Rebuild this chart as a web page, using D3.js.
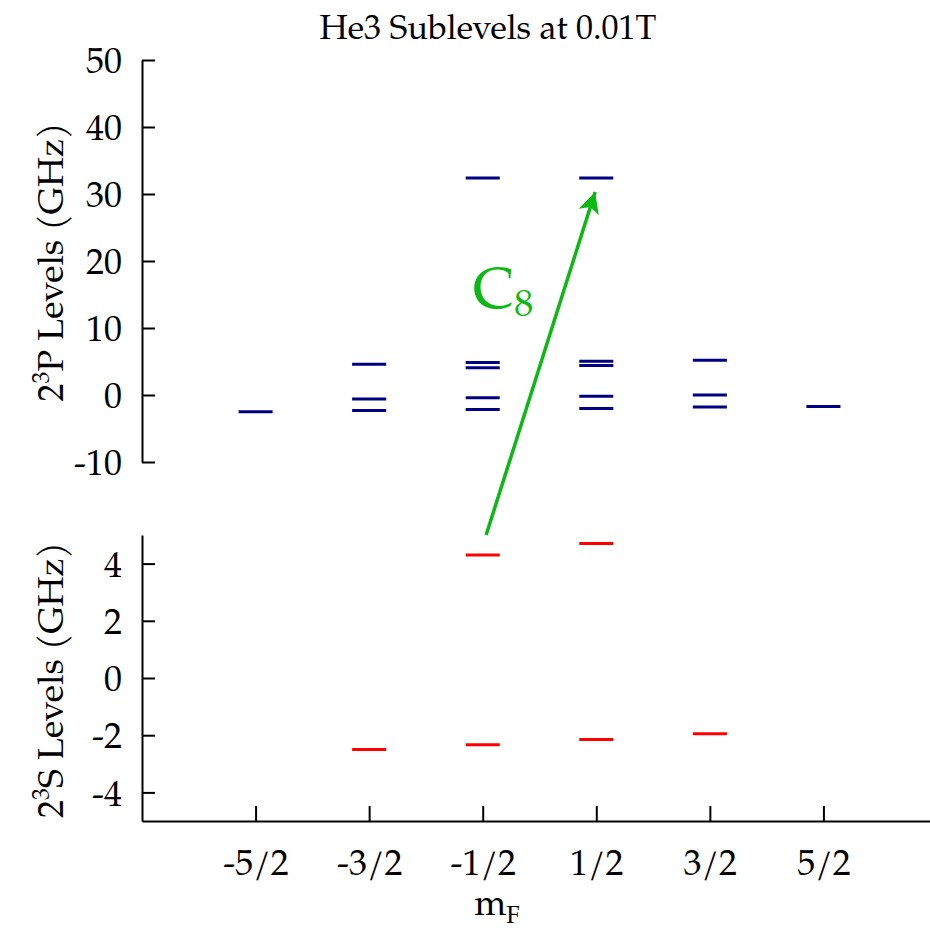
<!DOCTYPE html>
<html>
<head>
<meta charset="utf-8">
<script src="https://cdn.jsdelivr.net/npm/d3@7"></script>
<style>
  body { margin: 0; background: #fff; }
  text { font-family: "TeX Gyre Pagella", "Palatino Linotype", Palatino, "Liberation Serif", serif; fill: #000; }
</style>
</head>
<body>
<svg id="chart" width="930" height="938"></svg>
<script>
// m_F categories (numeric value + tick label)
var mfValues = [-2.5, -1.5, -0.5, 0.5, 1.5, 2.5]
var mfLabels = ["-5/2", "-3/2", "-1/2", "1/2", "3/2", "5/2"]

// 2^3P sublevels (GHz), one list per m_F
var pLevels = [
    [-2.5],
    [4.6, -0.6, -2.3],
    [32.4, 4.85, 4.05, -0.4, -2.15],
    [32.4, 5.05, 4.4, -0.2, -2.0],
    [5.2, 0.0, -1.8],
    [-1.7]
]
// 2^3S sublevels (GHz)
var sLevels = [
    [],
    [-2.5],
    [4.3, -2.33],
    [4.7, -2.15],
    [-1.95],
    []
]
var pTicks = [-10, 0, 10, 20, 30, 40, 50]
var sTicks = [-4, -2, 0, 2, 4]

// C8 transition arrow: from (mF, S level) to (mF, P level)
var arrowFrom = [-0.47, 5.0]
var arrowTo = [0.49, 30.3]

var svg = d3.select("#chart")
var green = "#0cb814"
var serif = "'TeX Gyre Pagella', 'Palatino Linotype', Palatino, 'Liberation Serif', serif"
var plain = function (d) { return String(d) } // hyphen minus, like the original

var x = d3.scaleLinear().domain([-3.5, 3.5]).range([142, 937])
var yP = d3.scaleLinear().domain([-10, 50]).range([462, 60])
var yS = d3.scaleLinear().domain([-5, 5]).range([821, 535])

// flatten levels
var pData = [], sData = []
mfValues.forEach(function (m, i) {
    pLevels[i].forEach(function (v) { pData.push({ m: m, v: v }) })
    sLevels[i].forEach(function (v) { sData.push({ m: m, v: v }) })
})

// title
svg.append("text")
    .attr("x", 488).attr("y", 39)
    .attr("text-anchor", "middle")
    .attr("font-size", 34)
    .text("He3 Sublevels at 0.01T")

// axes (inward ticks)
var axP = svg.append("g").attr("transform", "translate(142,0)")
    .call(d3.axisLeft(yP).tickValues(pTicks).tickFormat(plain).tickSizeInner(-13).tickSizeOuter(0).tickPadding(20))
var axS = svg.append("g").attr("transform", "translate(142,0)")
    .call(d3.axisLeft(yS).tickValues(sTicks).tickFormat(plain).tickSizeInner(-13).tickSizeOuter(0).tickPadding(20))
var axX = svg.append("g").attr("transform", "translate(0,821)")
    .call(d3.axisBottom(x).tickValues(mfValues).tickFormat(function (d, i) { return mfLabels[i] })
        .tickSizeInner(-15).tickSizeOuter(0).tickPadding(28))

;[axP, axS, axX].forEach(function (a) {
    a.selectAll("path.domain").attr("stroke", "#000").attr("stroke-width", 2)
    a.selectAll(".tick line").attr("stroke", "#000").attr("stroke-width", 2)
    a.selectAll(".tick text")
        .attr("font-family", serif)
        .attr("font-size", 36).attr("fill", "#000")
})
axP.selectAll(".tick text").attr("dy", "0.35em")
axS.selectAll(".tick text").attr("dy", "0.35em")

// levels
var hw = 0.15
svg.append("g").selectAll("line")
    .data(pData).enter().append("line")
    .attr("x1", function (d) { return x(d.m - hw) })
    .attr("x2", function (d) { return x(d.m + hw) })
    .attr("y1", function (d) { return yP(d.v) })
    .attr("y2", function (d) { return yP(d.v) })
    .attr("stroke", "#000080")
    .attr("stroke-width", 3)
svg.append("g").selectAll("line")
    .data(sData).enter().append("line")
    .attr("x1", function (d) { return x(d.m - hw) })
    .attr("x2", function (d) { return x(d.m + hw) })
    .attr("y1", function (d) { return yS(d.v) })
    .attr("y2", function (d) { return yS(d.v) })
    .attr("stroke", "#ff0000")
    .attr("stroke-width", 3)

// arrow
svg.append("defs").append("marker")
    .attr("id", "head")
    .attr("viewBox", "0 0 10 10")
    .attr("refX", 10).attr("refY", 5)
    .attr("markerWidth", 8).attr("markerHeight", 6)
    .attr("markerUnits", "strokeWidth")
    .attr("orient", "auto")
    .append("path").attr("d", "M0,0 L10,5 L0,10 L2.5,5 Z").attr("fill", green)
svg.append("line")
    .attr("x1", x(arrowFrom[0])).attr("y1", yS(arrowFrom[1]))
    .attr("x2", x(arrowTo[0])).attr("y2", yP(arrowTo[1]))
    .attr("stroke", green).attr("stroke-width", 3.5)
    .attr("marker-end", "url(#head)")

var c8 = svg.append("text")
    .attr("x", 473).attr("y", 308)
    .attr("font-size", 58)
    .style("fill", green)
c8.append("tspan").text("C")
c8.append("tspan").attr("font-size", 38).attr("dy", 8).text("8")

// axis labels
function ylab(cx, cy, main, sup, rest) {
    var t = svg.append("text")
        .attr("transform", "translate(" + cx + "," + cy + ") rotate(-90)")
        .attr("text-anchor", "middle")
        .attr("font-size", 36)
    t.append("tspan").text(main)
    t.append("tspan").attr("font-size", 24).attr("dy", -14).text(sup)
    t.append("tspan").attr("dy", 14).text(rest)
}
ylab(63, 262, "2", "3", "P Levels (GHz)")
ylab(63, 680, "2", "3", "S Levels (GHz)")

var xl = svg.append("text")
    .attr("x", 497).attr("y", 915)
    .attr("text-anchor", "middle")
    .attr("font-size", 36)
xl.append("tspan").text("m")
xl.append("tspan").attr("font-size", 24).attr("dy", 8).text("F")
</script>
</body>
</html>
